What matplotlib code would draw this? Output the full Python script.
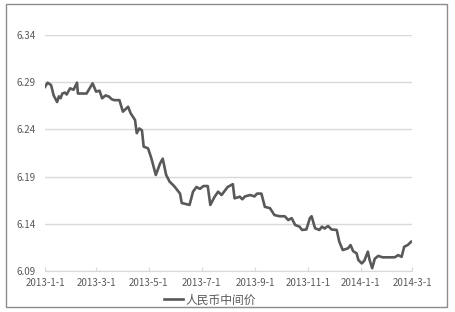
import matplotlib
matplotlib.use("Agg")
import matplotlib.pyplot as plt
from matplotlib.patches import Rectangle
import numpy as np

plt.rcParams['font.family'] = ['Noto Sans CJK SC', 'DejaVu Sans']

# RMB central parity rate
dates = ['2013-01-01', '2013-01-04', '2013-01-08', '2013-01-11', '2013-01-15', '2013-01-17',
         '2013-01-19', '2013-01-21', '2013-01-24', '2013-01-26', '2013-01-30', '2013-02-03',
         '2013-02-07', '2013-02-08', '2013-02-18', '2013-02-25', '2013-03-01', '2013-03-05',
         '2013-03-08', '2013-03-12', '2013-03-16', '2013-03-19', '2013-03-22', '2013-03-28',
         '2013-04-01', '2013-04-07', '2013-04-10', '2013-04-15', '2013-04-17', '2013-04-20',
         '2013-04-23', '2013-04-25', '2013-04-30', '2013-05-02', '2013-05-04', '2013-05-09',
         '2013-05-14', '2013-05-17', '2013-05-21', '2013-05-25', '2013-05-28', '2013-05-31',
         '2013-06-06', '2013-06-08', '2013-06-17', '2013-06-21', '2013-06-25', '2013-06-29',
         '2013-07-03', '2013-07-08', '2013-07-11', '2013-07-16', '2013-07-20', '2013-07-24',
         '2013-07-31', '2013-08-06', '2013-08-08', '2013-08-14', '2013-08-17', '2013-08-20',
         '2013-08-26', '2013-08-31', '2013-09-03', '2013-09-08', '2013-09-12', '2013-09-18',
         '2013-09-23', '2013-09-29', '2013-10-05', '2013-10-09', '2013-10-13', '2013-10-17',
         '2013-10-22', '2013-10-25', '2013-10-30', '2013-11-03', '2013-11-05', '2013-11-09',
         '2013-11-14', '2013-11-17', '2013-11-20', '2013-11-24', '2013-11-28', '2013-12-04',
         '2013-12-07', '2013-12-11', '2013-12-17', '2013-12-20', '2013-12-23', '2013-12-27',
         '2013-12-29', '2014-01-02', '2014-01-05', '2014-01-09', '2014-01-11', '2014-01-14',
         '2014-01-17', '2014-01-21', '2014-01-26', '2014-02-02', '2014-02-09', '2014-02-13',
         '2014-02-17', '2014-02-20', '2014-02-24', '2014-02-28']
rates = [6.285, 6.2895, 6.287, 6.276, 6.269, 6.275,
         6.273, 6.278, 6.279, 6.277, 6.2835, 6.282,
         6.2895, 6.278, 6.278, 6.2888, 6.280, 6.281,
         6.273, 6.276, 6.2747, 6.272, 6.271, 6.271,
         6.2588, 6.264, 6.257, 6.250, 6.236, 6.241,
         6.239, 6.2217, 6.220, 6.2147, 6.209, 6.1917,
         6.204, 6.209, 6.1917, 6.1846, 6.182, 6.179,
         6.172, 6.162, 6.160, 6.174, 6.179, 6.177,
         6.180, 6.180, 6.160, 6.1687, 6.174, 6.1705,
         6.179, 6.182, 6.167, 6.1687, 6.166, 6.169,
         6.1705, 6.169, 6.172, 6.172, 6.158, 6.1565,
         6.1493, 6.148, 6.148, 6.144, 6.146, 6.1387,
         6.137, 6.1335, 6.134, 6.146, 6.148, 6.1353,
         6.1335, 6.137, 6.135, 6.1377, 6.134, 6.1335,
         6.121, 6.1122, 6.114, 6.1175, 6.111, 6.1087,
         6.1017, 6.098, 6.101, 6.1105, 6.1017, 6.093,
         6.103, 6.106, 6.1045, 6.1045, 6.1045, 6.1068,
         6.105, 6.1157, 6.1175, 6.121]

xticks = ['2013-1-1', '2013-3-1', '2013-5-1', '2013-7-1', '2013-9-1',
          '2013-11-1', '2014-1-1', '2014-3-1']
tick_dates = ['2013-01-01', '2013-03-01', '2013-05-01', '2013-07-01', '2013-09-01',
              '2013-11-01', '2014-01-01', '2014-03-01']
yticks = [6.09, 6.14, 6.19, 6.24, 6.29, 6.34]
series_name = '人民币中间价'

x = np.array(dates, dtype='datetime64[D]')
tick_pos = np.array(tick_dates, dtype='datetime64[D]')

fig = plt.figure(figsize=(4.55, 3.12), dpi=100)
ax = fig.add_axes([0.0989, 0.1314, 0.8066, 0.7564])

ax.plot(x, rates, color='#595959', lw=1.9, label=series_name)

ax.set_xlim(tick_pos[0], tick_pos[-1])
ax.set_ylim(6.09, 6.34)
ax.set_xticks(tick_pos)
ax.set_xticklabels(xticks)
ax.set_yticks(yticks)
ax.set_yticklabels(['%.2f' % v for v in yticks])
ax.grid(axis='y', color='#d9d9d9', lw=1)
ax.set_axisbelow(True)
for s in ['top', 'right', 'left']:
    ax.spines[s].set_visible(False)
ax.spines['bottom'].set_color('#d9d9d9')
ax.tick_params(axis='x', direction='in', length=3, color='#d9d9d9',
               labelsize=7, labelcolor='#595959', pad=5)
ax.tick_params(axis='y', length=0, labelsize=7, labelcolor='#595959', pad=7)

ax.legend(loc='upper center', bbox_to_anchor=(0.45, -0.05), frameon=False,
          fontsize=8.5, handlelength=1.6, handletextpad=0.2, labelcolor='#595959')

fig.patches.append(Rectangle((6 / 455, 5 / 312), 441 / 455, 303 / 312,
                             transform=fig.transFigure, fill=False,
                             edgecolor='#8c8c8c', lw=1))

fig.savefig('out.png', dpi=100)
